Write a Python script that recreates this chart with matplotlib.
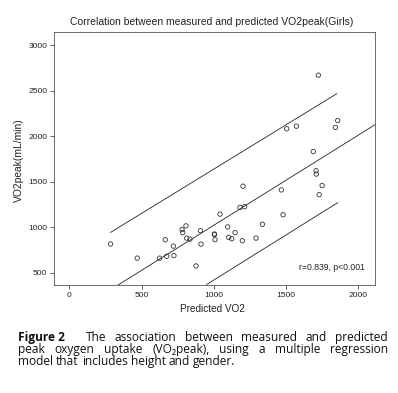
import numpy as np
import matplotlib
matplotlib.use("Agg")
import matplotlib.pyplot as plt

# values
predicted = [285, 470, 625, 664, 674, 720, 724, 780, 785, 807, 812, 835, 877,
             907, 911, 1004, 1004, 1008, 1043, 1096, 1103, 1124, 1147, 1181,
             1202, 1197, 1213, 1292, 1336, 1467, 1479, 1688, 1707, 1709, 1729,
             1749, 1723, 1504, 1571, 1841, 1857]
measured = [815, 660, 660, 862, 681, 792, 688, 973, 940, 1014, 880, 869, 574,
            962, 814, 925, 918, 862, 1143, 1003, 888, 873, 940, 1217,
            1450, 851, 1224, 880, 1032, 1409, 1136, 1830, 1620, 1583, 1357,
            1457, 2669, 2080, 2109, 2095, 2171]

fit_intercept = 31
fit_slope = 0.99
upper_x = [286, 1850]
upper_y = [943, 2465]
lower_x = [951, 1857]
lower_y = [371, 1269]

x_ticks = [0, 500, 1000, 1500, 2000]
y_ticks = [500, 1000, 1500, 2000, 2500, 3000]

chart_font = "Liberation Sans"
cap_font = ["Open Sans", "DejaVu Sans"]

fig = plt.figure(figsize=(3.98, 3.93), dpi=100)
ax = fig.add_axes([54 / 398, 108 / 393, 321 / 398, 253 / 393])

xlim = (-106, 2115)
ax.set_xlim(*xlim)
ax.set_ylim(365, 3143)

xs = np.array(xlim)
ax.plot(xs, fit_intercept + fit_slope * xs, color="#222222", lw=0.6)
ax.plot(upper_x, upper_y, color="#222222", lw=0.6)
ax.plot(lower_x, lower_y, color="#222222", lw=0.6)
ax.scatter(predicted, measured, s=10, facecolors="none", edgecolors="#333333",
           linewidths=0.6, zorder=3)

ax.set_xticks(x_ticks)
ax.set_yticks(y_ticks)
ax.tick_params(length=2.8, width=0.5, pad=2, labelsize=6.1, colors="#222222")
for lab in ax.get_xticklabels() + ax.get_yticklabels():
    lab.set_family(chart_font)
for s in ax.spines.values():
    s.set_linewidth(0.6)
    s.set_color("#555555")

ax.text(0.97, 0.07, "r=0.839, p<0.001", transform=ax.transAxes, ha="right",
        va="center", fontsize=6.2, family=chart_font, color="#222222")

fig.text(212 / 398, 1 - 22 / 393, "Correlation between measured and predicted VO2peak(Girls)",
         ha="center", va="center", fontsize=7.45, family=chart_font, color="#222222")
fig.text(19 / 398, 1 - 160 / 393, "VO2peak(mL/min)", rotation=90, ha="center",
         va="center", fontsize=7.4, family=chart_font, color="#222222")
fig.text(212 / 398, 1 - 309 / 393, "Predicted VO2", ha="center", va="center",
         fontsize=7.2, family=chart_font, color="#222222")

# caption, justified word by word
renderer = fig.canvas.get_renderer()
left_px, right_px = 18, 388
cap_size = 8.6


def word_width(word, weight="normal"):
    t = fig.text(0, 0, word, fontsize=cap_size, family=cap_font, weight=weight)
    w = t.get_window_extent(renderer).width
    t.remove()
    return w


def justify_line(words, y_px, start_px, justify=True):
    widths = [word_width(w) for w in words]
    if justify and len(words) > 1:
        gap = (right_px - start_px - sum(widths)) / (len(words) - 1)
    else:
        gap = word_width("a b") - word_width("ab")
    x = start_px
    for w, wd in zip(words, widths):
        fig.text(x / 398, 1 - y_px / 393, w, ha="left", va="baseline",
                 fontsize=cap_size, family=cap_font, color="#111111")
        x += wd + gap


fig.text(left_px / 398, 1 - 341 / 393, "Figure 2", ha="left", va="baseline",
         fontsize=cap_size, family=cap_font, weight="bold", color="#111111")
justify_line("The association between measured and predicted".split(), 341, 86)
justify_line("peak oxygen uptake (VO\u2082peak), using a multiple regression".split(), 353, left_px)
justify_line("model that includes height and gender.".split(), 365, left_px, justify=False)

fig.savefig("out.png", dpi=100)
